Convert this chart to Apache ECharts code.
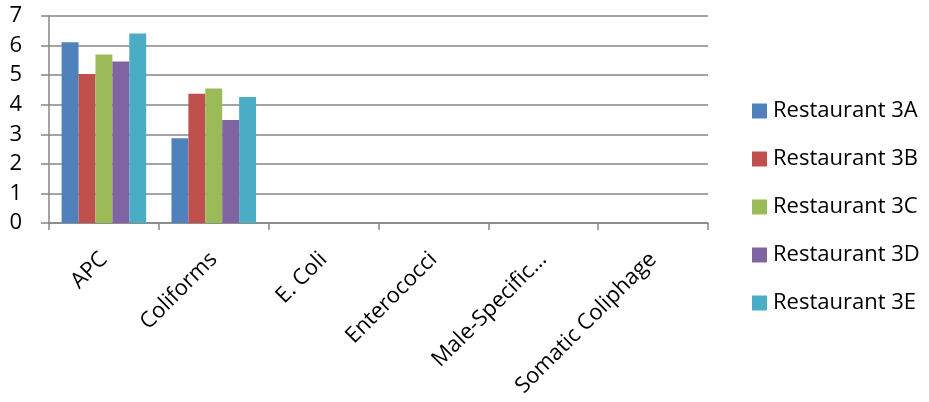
<!DOCTYPE html>
<html>
<head>
<meta charset="utf-8">
<style>
  html, body { margin: 0; padding: 0; background: #fff; }
  #chart { width: 929px; height: 402px; }
</style>
<script src="https://cdn.jsdelivr.net/npm/echarts@6/dist/echarts.min.js"></script>
</head>
<body>
<div id="chart"></div>
<script>
// Indicator organisms measured for each restaurant
const categories = ['APC', 'Coliforms', 'E. Coli', 'Enterococci', 'Male-Specific...', 'Somatic Coliphage'];
const seriesNames = ['Restaurant 3A', 'Restaurant 3B', 'Restaurant 3C', 'Restaurant 3D', 'Restaurant 3E'];
const restaurant3A = [6.11, 2.87, 0, 0, 0, 0];
const restaurant3B = [5.04, 4.37, 0, 0, 0, 0];
const restaurant3C = [5.70, 4.55, 0, 0, 0, 0];
const restaurant3D = [5.46, 3.48, 0, 0, 0, 0];
const restaurant3E = [6.41, 4.26, 0, 0, 0, 0];
const yTicks = [0, 1, 2, 3, 4, 5, 6, 7];
const colors = ['#4F81BD', '#C0504D', '#9BBB59', '#8064A2', '#4BACC6'];

const values = [restaurant3A, restaurant3B, restaurant3C, restaurant3D, restaurant3E];
const fontFamily = '"Open Sans", sans-serif';
const axisGray = '#868686';

const chart = echarts.init(document.getElementById('chart'), null, { renderer: 'canvas' });
chart.setOption({
  animation: false,
  color: colors,
  grid: { left: 49, right: 221, top: 16, bottom: 179, containLabel: false },
  legend: {
    orient: 'vertical',
    left: 747,
    top: 95,
    itemWidth: 15,
    itemHeight: 15,
    itemGap: 26,
    icon: 'rect',
    textStyle: { fontFamily, fontSize: 22, lineHeight: 22, color: '#000', padding: [0, 0, 0, 1] },
    data: seriesNames
  },
  xAxis: {
    type: 'category',
    data: categories,
    axisLine: { lineStyle: { color: axisGray, width: 1.5 } },
    axisTick: { show: true, inside: false, length: 7, alignWithLabel: false, lineStyle: { color: axisGray, width: 1.5 } },
    axisLabel: { rotate: 45, interval: 0, fontFamily, fontSize: 22, color: '#000', margin: 33 }
  },
  yAxis: {
    type: 'value',
    min: yTicks[0],
    max: yTicks[yTicks.length - 1],
    interval: 1,
    axisLine: { show: true, lineStyle: { color: axisGray, width: 1.5 } },
    axisTick: { show: true, length: 8, lineStyle: { color: axisGray, width: 1.5 } },
    splitLine: { lineStyle: { color: axisGray, width: 1.5 } },
    axisLabel: { fontFamily, fontSize: 22, color: '#000', margin: 27 }
  },
  series: seriesNames.map((name, i) => ({
    name,
    type: 'bar',
    data: values[i],
    barGap: '0%',
    barCategoryGap: '23%'
  }))
});
</script>
</body>
</html>
